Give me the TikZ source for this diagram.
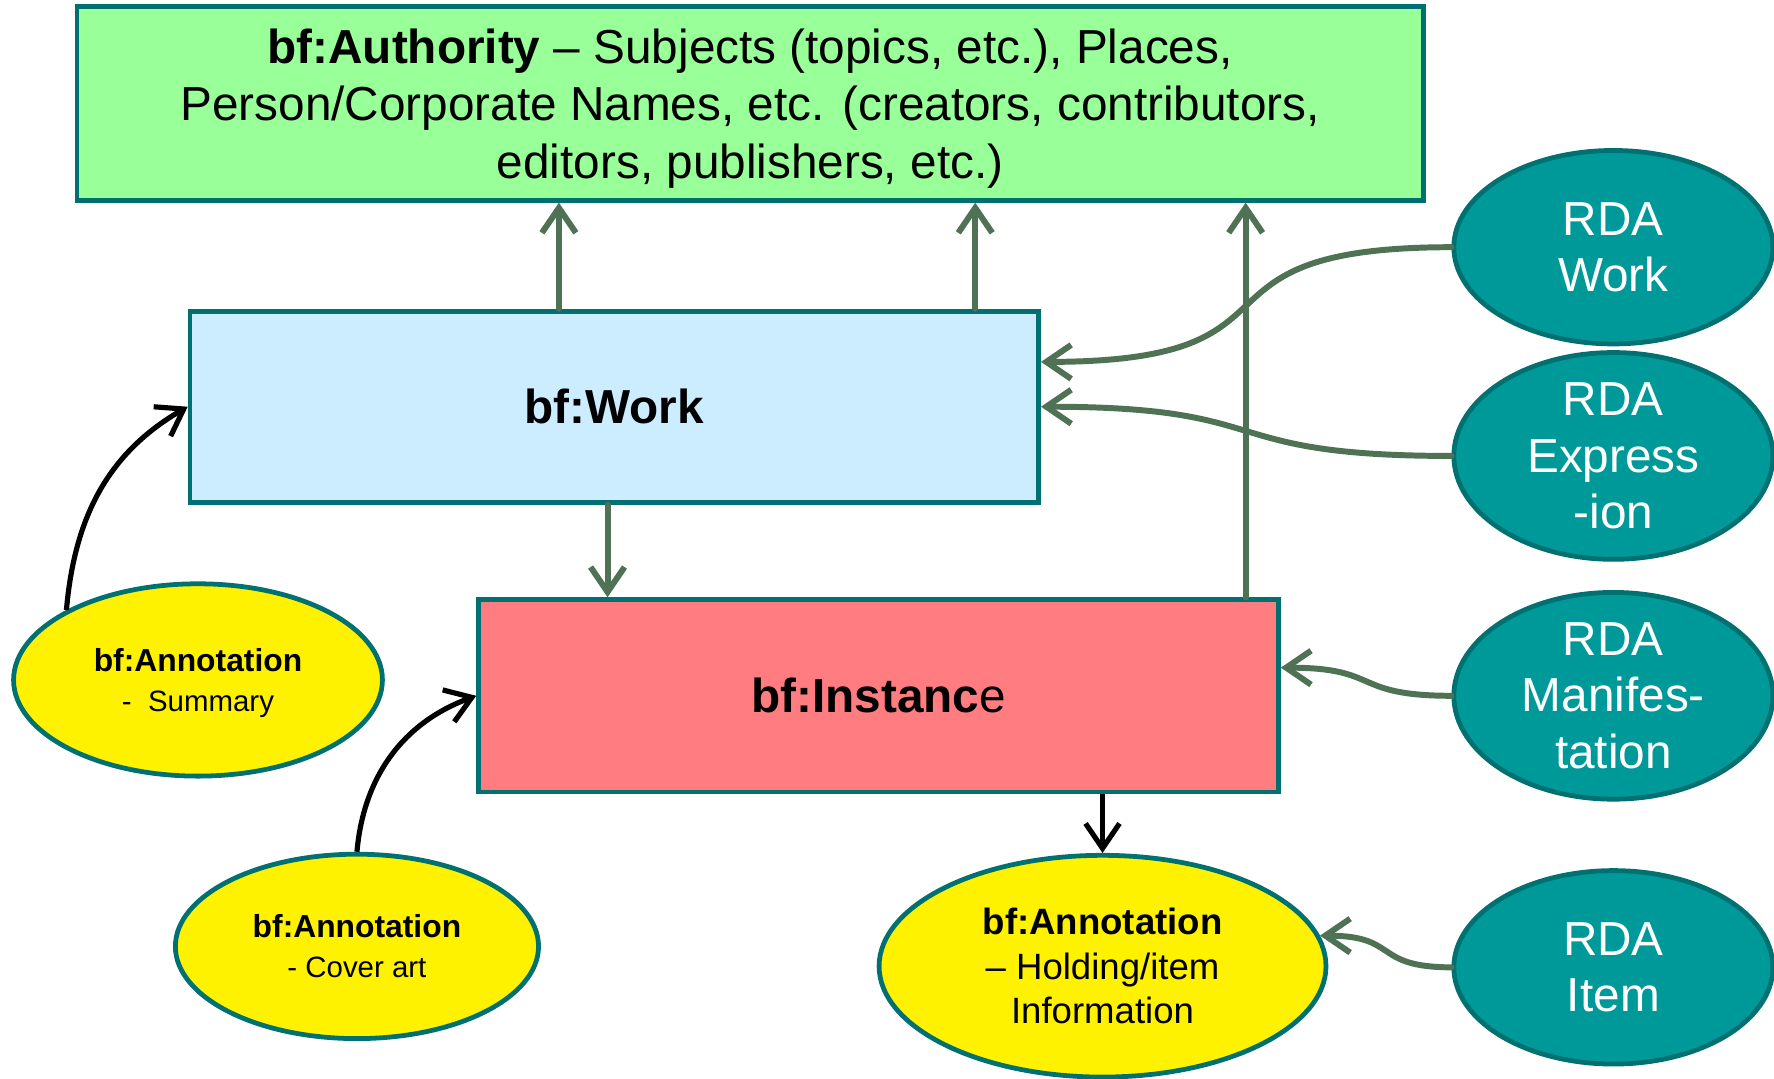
\documentclass[tikz,border=0pt]{standalone}
\usepackage{fontspec}
\setmainfont{Liberation Sans}
\usetikzlibrary{shapes.geometric,arrows.meta}
\definecolor{edge}{RGB}{0,112,112}
\definecolor{authgreen}{RGB}{153,255,153}
\definecolor{workblue}{RGB}{204,236,255}
\definecolor{instpink}{RGB}{255,124,128}
\definecolor{rdateal}{RGB}{0,153,153}
\definecolor{linkgreen}{RGB}{80,114,84}
\begin{document}
\begin{tikzpicture}[
    box/.style={draw=edge,line width=1.2pt,inner sep=0pt,align=center},
    rda/.style={ellipse,draw=edge,line width=1.2pt,fill=rdateal,text=white,minimum width=2.82cm,minimum height=1.71cm,inner sep=0pt,align=center,font=\fontsize{12}{14.2}\selectfont},
    note/.style={ellipse,draw=edge,line width=1.2pt,fill=yellow,inner sep=0pt,align=center},
    link/.style={draw=linkgreen,line width=1.5pt,line cap=round,-{Straight Barb[length=2.2mm,width=3mm]}},
    blink/.style={draw=black,line width=1.3pt,-{Straight Barb[length=2.2mm,width=3mm]}}]
    \useasboundingbox (0,0) rectangle (15.68,-9.53);
    % the three bf classes
    \node[box,fill=authgreen,minimum width=11.9cm,minimum height=1.71cm,text depth=0pt,font=\fontsize{12}{14.5}\selectfont] (auth) at (6.63,-0.915) {\textbf{bf:Authority} – Subjects (topics, etc.), Places,\\Person/Corporate Names, etc. (creators, contributors,\\editors, publishers, etc.)};
    \node[box,fill=workblue,minimum width=7.5cm,minimum height=1.69cm,font=\fontsize{12}{14.5}\selectfont\bfseries] (work) at (5.43,-3.595) {bf:Work};
    \node[box,fill=instpink,minimum width=7.07cm,minimum height=1.70cm,font=\fontsize{12}{14.5}\selectfont] (inst) at (7.765,-6.15) {\textbf{bf:Instanc}e};
    % RDA side
    \node[rda] (rdawork) at (14.26,-2.185) {RDA\\Work};
    \node[rda] (rdaexpr) at (14.26,-4.03) {RDA\\Express\\-ion};
    \node[rda] (rdamanif) at (14.26,-6.15) {RDA\\Manifes-\\tation};
    \node[rda] (rdaitem) at (14.26,-8.55) {RDA\\Item};
    % annotations
    \node[note,minimum width=3.26cm,minimum height=1.70cm,text depth=0pt,font=\fontsize{8}{10}\selectfont] (summ) at (1.75,-6.01) {\textbf{bf:Annotation}\\{\fontsize{7.4}{10}\selectfont -\ \ Summary}};
    \node[note,minimum width=3.21cm,minimum height=1.63cm,font=\fontsize{8}{10}\selectfont] (cover) at (3.155,-8.365) {\textbf{bf:Annotation}\\{\fontsize{7.4}{10}\selectfont - Cover art}};
    \node[note,minimum width=3.95cm,minimum height=1.96cm,font=\fontsize{9.2}{11.2}\selectfont] (hold) at (9.745,-8.54) {\textbf{bf:Annotation}\\– Holding/item\\Information};
    % links
    \draw[link] (work.north -| 4.94,0) -- (auth.south -| 4.94,0);
    \draw[link] (work.north -| 8.62,0) -- (auth.south -| 8.62,0);
    \draw[link] (work.south -| 5.37,0) -- (inst.north -| 5.37,0);
    \draw[link] (inst.north -| 11.01,0) -- (auth.south -| 11.01,0);
    \draw[link] (rdawork.west) to[out=180,in=0,looseness=1.7] (work.6.3);
    \draw[link] (rdaexpr.west) to[out=180,in=0,looseness=1.5] (work.east);
    \draw[link] (rdamanif.west) to[out=180,in=0,looseness=1.5] (inst.4.5);
    \draw[link] (rdaitem.west) to[out=180,in=0,looseness=1.5] (hold.8);
    \draw[blink] (summ.152) to[out=85,in=210] (work.west);
    \draw[blink] (cover.north) to[out=85,in=200] (inst.west);
    \draw[blink] (inst.south -| hold.north) -- (hold.north);
\end{tikzpicture}
\end{document}
